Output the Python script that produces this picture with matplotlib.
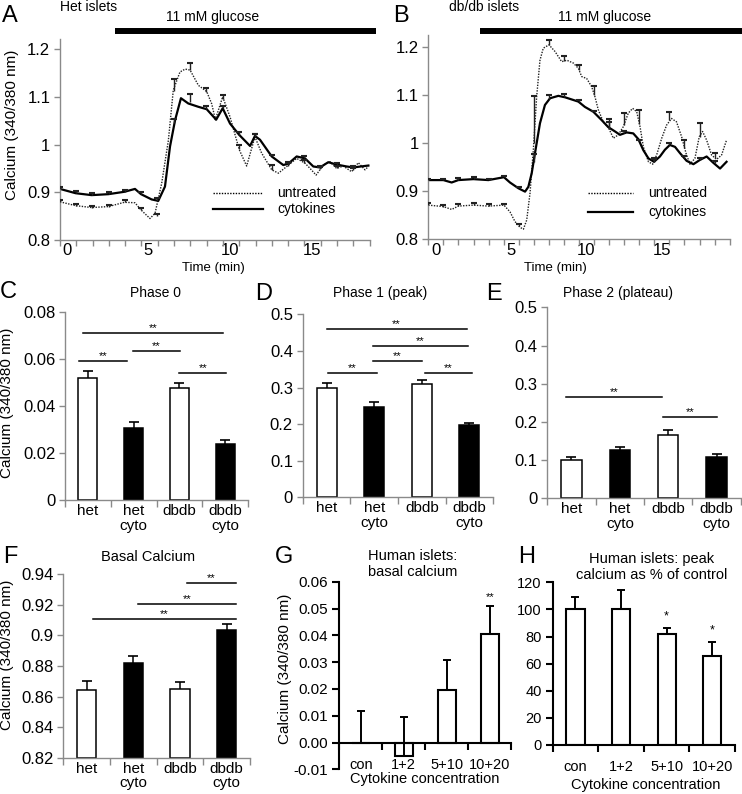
import numpy as np
import matplotlib
matplotlib.use("Agg")
import matplotlib.pyplot as plt
from matplotlib.lines import Line2D

plt.rcParams["font.family"] = ["Liberation Sans", "DejaVu Sans"]

# ---------------- A: het islets, calcium (340/380) vs time (min) ----------------
het_untr_t = [-0.43, 0.53, 1.51, 2.54, 3.52, 4.17, 4.54, 5.09, 5.40, 5.81,
              6.22, 6.52, 6.93, 7.25, 7.55, 8.06, 8.57, 8.88, 9.10, 9.55,
              10.0, 10.57, 11.02, 11.53, 11.94, 12.56, 12.97, 13.48, 14.09, 14.60,
              14.91, 15.28, 15.73, 16.13, 16.54, 16.95, 17.46, 17.87, 18.28, 18.49]
het_untr_v = [0.880, 0.872, 0.868, 0.870, 0.879, 0.878, 0.863, 0.845, 0.856, 0.919,
              1.009, 1.114, 1.152, 1.158, 1.156, 1.124, 1.111, 1.085, 1.052, 1.100,
              1.058, 0.989, 0.955, 1.016, 0.982, 0.947, 0.940, 0.954, 0.971, 0.961,
              0.950, 0.936, 0.957, 0.964, 0.950, 0.955, 0.943, 0.962, 0.947, 0.954]
het_cyto_t = [-0.43, 0.53, 1.51, 2.54, 3.52, 4.17, 4.54, 5.19, 5.60, 6.01,
              6.32, 6.63, 6.99, 7.44, 8.06, 8.57, 9.15, 9.55, 10.0, 10.57,
              11.23, 11.53, 11.84, 12.56, 13.27, 13.58, 14.09, 14.60, 15.11, 15.52,
              16.03, 16.54, 17.16, 17.57, 18.49]
het_cyto_v = [0.907, 0.898, 0.894, 0.896, 0.901, 0.907, 0.896, 0.885, 0.882, 0.912,
              0.996, 1.051, 1.097, 1.086, 1.079, 1.074, 1.052, 1.076, 1.044, 1.020,
              0.997, 1.018, 1.010, 0.975, 0.957, 0.960, 0.975, 0.971, 0.954, 0.952,
              0.963, 0.958, 0.954, 0.952, 0.956]
het_err_t = [-0.43, 0.55, 1.55, 2.55, 3.55, 4.55, 5.55, 6.55, 7.55, 8.55,
             9.55, 10.55, 11.55, 12.55, 13.55, 14.55, 15.55, 16.55, 17.55]
het_untr_eb = [0.880, 0.872, 0.868, 0.870, 0.879, 0.863, 0.850, 1.112, 1.156, 1.111,
               1.096, 0.990, 1.016, 0.947, 0.956, 0.962, 0.948, 0.950, 0.946]
het_untr_se = [0.004, 0.004, 0.004, 0.004, 0.004, 0.005, 0.005, 0.026, 0.015, 0.007,
               0.008, 0.010, 0.005, 0.010, 0.006, 0.006, 0.005, 0.005, 0.004]
het_cyto_eb = [0.907, 0.898, 0.894, 0.896, 0.901, 0.896, 0.882, 1.045, 1.090, 1.074,
               1.076, 1.020, 1.018, 0.975, 0.960, 0.971, 0.952, 0.958, 0.952]
het_cyto_se = [0.004, 0.004, 0.004, 0.004, 0.004, 0.004, 0.006, 0.008, 0.016, 0.006,
               0.004, 0.006, 0.004, 0.004, 0.004, 0.004, 0.004, 0.004, 0.004]

# ---------------- B: db/db islets ----------------
db_untr_t = [-0.49, 0.51, 1.06, 1.5, 2.5, 3.5, 4.53, 4.93, 5.26, 5.59,
             5.82, 6.04, 6.26, 6.48, 6.70, 6.92, 7.14, 7.52, 7.92, 8.36,
             8.7, 9.14, 9.47, 9.69, 10.02, 10.35, 10.57, 10.79, 11.12, 11.45,
             11.79, 12.12, 12.45, 12.78, 13.07, 13.34, 13.56, 13.78, 14.12, 14.40,
             14.66, 15.0, 15.32, 15.65, 15.98, 16.32, 16.61, 16.87, 17.2, 17.49,
             17.71, 17.98, 18.31, 18.64, 18.97, 19.3]
db_untr_v = [0.871, 0.868, 0.862, 0.869, 0.871, 0.869, 0.871, 0.857, 0.837, 0.825,
             0.821, 0.840, 0.896, 0.986, 1.096, 1.172, 1.197, 1.204, 1.190, 1.169,
             1.172, 1.166, 1.155, 1.138, 1.134, 1.117, 1.096, 1.069, 1.044, 1.033,
             1.010, 1.017, 1.034, 1.062, 1.072, 1.065, 1.034, 0.992, 0.961, 0.956,
             0.975, 1.010, 1.037, 1.051, 1.044, 1.013, 0.979, 0.956, 0.968, 1.013,
             1.024, 1.006, 0.975, 0.966, 0.975, 1.006]
db_cyto_t = [-0.49, 0.51, 1.06, 1.5, 2.5, 3.5, 4.53, 4.93, 5.49, 5.93,
             6.15, 6.37, 6.59, 6.92, 7.25, 7.59, 8.14, 8.58, 9.47, 9.9,
             10.46, 11.0, 11.45, 11.9, 12.23, 12.67, 13.11, 13.45, 13.78, 14.12,
             14.49, 14.88, 15.21, 15.54, 15.88, 16.21, 16.65, 17.1, 17.54, 17.98,
             18.42, 18.87, 19.3]
db_cyto_v = [0.923, 0.923, 0.918, 0.923, 0.925, 0.923, 0.929, 0.918, 0.906, 0.899,
             0.909, 0.937, 0.979, 1.041, 1.079, 1.093, 1.098, 1.095, 1.086, 1.075,
             1.065, 1.048, 1.033, 1.024, 1.017, 1.022, 1.020, 1.008, 0.985, 0.968,
             0.961, 0.972, 0.986, 0.996, 0.992, 0.979, 0.963, 0.956, 0.965, 0.972,
             0.959, 0.947, 0.961]
db_err_t = [-0.49, 0.51, 1.51, 2.51, 3.51, 4.51, 5.51, 6.51, 7.51, 8.51,
            9.51, 10.51, 11.51, 12.51, 13.51, 14.51, 15.51, 16.51, 17.51, 18.51]
db_untr_eb = [0.871, 0.868, 0.869, 0.871, 0.869, 0.871, 0.828, 1.000, 1.204, 1.170,
              1.152, 1.100, 1.030, 1.038, 1.040, 0.962, 1.048, 0.990, 1.013, 0.968]
db_untr_se = [0.004, 0.004, 0.004, 0.004, 0.004, 0.003, 0.003, 0.098, 0.010, 0.010,
              0.010, 0.018, 0.020, 0.025, 0.028, 0.004, 0.016, 0.017, 0.028, 0.012]
db_cyto_eb = [0.923, 0.923, 0.923, 0.925, 0.923, 0.929, 0.906, 0.960, 1.092, 1.095,
              1.086, 1.064, 1.031, 1.021, 1.004, 0.961, 0.996, 0.968, 0.965, 0.959]
db_cyto_se = [0.003, 0.003, 0.004, 0.004, 0.003, 0.003, 0.003, 0.018, 0.008, 0.007,
              0.003, 0.003, 0.012, 0.004, 0.003, 0.007, 0.003, 0.005, 0.003, 0.003]
glucose_on = 2.95  # min

# ---------------- C-F: mouse islet summaries ----------------
groups = ["het", "het\ncyto", "dbdb", "dbdb\ncyto"]
group_colors = ["white", "black", "white", "black"]
phase0 = [0.0520, 0.0306, 0.0476, 0.0237]
phase0_se = [0.0030, 0.0025, 0.0021, 0.0017]
phase1 = [0.300, 0.2475, 0.310, 0.1975]
phase1_se = [0.013, 0.012, 0.011, 0.006]
phase2 = [0.100, 0.126, 0.1657, 0.109]
phase2_se = [0.007, 0.009, 0.013, 0.007]
basal = [0.8643, 0.8822, 0.8650, 0.9036]
basal_se = [0.0060, 0.0046, 0.0044, 0.0040]

# ---------------- G-H: human islets ----------------
conc = ["con", "1+2", "5+10", "10+20"]
human_basal = [0.0, -0.005, 0.0195, 0.0404]
human_basal_se = [0.0117, 0.0145, 0.0112, 0.0104]
human_peak = [100, 100, 82, 66]
human_peak_se = [9.5, 14.5, 4, 10]

W, H = 742, 794
GREY = "#8a8a8a"
fig = plt.figure(figsize=(W / 100, H / 100), dpi=100)


def add_ax(l, t, r, b):
    return fig.add_axes([l / W, 1 - b / H, (r - l) / W, (b - t) / H])


def label(x, y, s, **kw):
    fig.text(x / W, 1 - y / H, s, **kw)


def style_axes(ax, color=GREY, lw=1.0):
    for s in ["top", "right"]:
        ax.spines[s].set_visible(False)
    for s in ["left", "bottom"]:
        ax.spines[s].set_color(color)
        ax.spines[s].set_linewidth(lw)
    ax.tick_params(which="both", color=color, width=lw, direction="out")
    ax.patch.set_alpha(0)


def up_err(ax, x, base, err, color="black", lw=1.1, capw=6, capt=1.4, z=3):
    # one-sided (+SEM) error bars with a cap at the top only
    top = np.array(base) + np.array(err)
    ax.vlines(x, base, top, color=color, lw=lw, zorder=z)
    ax.plot(x, top, ls="none", marker="_", ms=capw, mew=capt, color=color, zorder=z)


def time_panel(ax, tu, vu, tc, vc, et, ub, us, cb, cs, xmin, xmax, ntick):
    ax.plot(tu, vu, color="#222222", lw=1.0, ls=(0, (1, 1)))
    ax.plot(tc, vc, color="black", lw=1.6)
    up_err(ax, et, ub, us, color="#222222", lw=1.0, capw=5, capt=1.5)
    up_err(ax, et, cb, cs, color="#222222", lw=1.0, capw=5, capt=1.5)
    ax.set_xlim(xmin, xmax)
    style_axes(ax)
    ax.set_xticks([0, 5, 10, 15], ["0", "5", "10", "15"])
    ax.set_xticks(np.arange(ntick) + xmin, minor=True)
    ax.tick_params(axis="x", which="major", length=0, pad=2.5, labelsize=12)
    ax.tick_params(axis="x", which="minor", length=4)
    ax.set_yticks([0.8, 0.9, 1.0, 1.1, 1.2], ["0.8", "0.9", "1", "1.1", "1.2"])
    ax.tick_params(axis="y", length=4, labelsize=12, pad=3)


# A
axA = add_ax(60, 39.5, 369.7, 240)
axA.set_ylim(0.8, 1.22)
time_panel(axA, het_untr_t, het_untr_v, het_cyto_t, het_cyto_v, het_err_t,
           het_untr_eb, het_untr_se, het_cyto_eb, het_cyto_se, -0.43, 18.57, 20)
axA.plot([glucose_on, 18.96], [1.042, 1.042], color="black", lw=4.3,
         solid_capstyle="butt", clip_on=False, transform=axA.get_xaxis_transform())

# B
axB = add_ax(428.3, 34.7, 729.7, 239.3)
axB.set_ylim(0.8, 1.225)
time_panel(axB, db_untr_t, db_untr_v, db_cyto_t, db_cyto_v, db_err_t,
           db_untr_eb, db_untr_se, db_cyto_eb, db_cyto_se, -0.49, 19.51, 21)
axB.plot([glucose_on, 20.3], [1.02, 1.02], color="black", lw=4.3,
         solid_capstyle="butt", clip_on=False, transform=axB.get_xaxis_transform())

label(12, 125, "Calcium (340/380 nm)", rotation=90, ha="center", va="center", fontsize=11)
label(213, 268, "Time (min)", ha="center", va="center", fontsize=9.5)
label(555, 268, "Time (min)", ha="center", va="center", fontsize=9.5)
label(60, 7, "Het islets", ha="left", va="center", fontsize=10)
label(449, 7, "db/db islets", ha="left", va="center", fontsize=10)
label(213, 17, "11 mM glucose", ha="center", va="center", fontsize=10)
label(605, 17, "11 mM glucose", ha="center", va="center", fontsize=10)

for (x0, x1, xt, ys) in [(213, 263, 277, (193, 209)), (588, 633, 648, (193, 212))]:
    for y, ls, lw, txt in zip(ys, [(0, (1, 1)), "-"], [1.0, 1.6], ["untreated", "cytokines"]):
        fig.add_artist(Line2D([x0 / W, x1 / W], [1 - y / H] * 2, color="black", ls=ls, lw=lw))
        label(xt, y, txt, ha="left", va="center", fontsize=10)


def bar_panel(ax, vals, errs, bottom, ylim, yticks, ylabels, sigs, width=0.42):
    x = np.arange(len(vals))
    heights = np.array(vals) - bottom
    ax.bar(x, heights, bottom=bottom, width=width, color=group_colors,
           edgecolor="black", linewidth=1.1, zorder=2)
    up_err(ax, x, vals, errs, lw=1.1, capw=6.5, capt=1.2)
    ax.set_xlim(-0.5, 3.5)
    ax.set_ylim(*ylim)
    style_axes(ax)
    ax.set_xticks(x, groups, linespacing=1.05)
    ax.set_xticks(np.arange(5) - 0.5, minor=True)
    ax.tick_params(axis="x", which="major", length=0, pad=3, labelsize=11)
    ax.tick_params(axis="x", which="minor", length=5)
    ax.set_yticks(yticks, ylabels)
    ax.tick_params(axis="y", length=4, labelsize=12, pad=3)
    for x0, x1, y in sigs:
        ax.plot([x0, x1], [y, y], color="black", lw=1.1, clip_on=False)
        ax.text((x0 + x1) / 2, y, "**", ha="center", va="bottom", fontsize=8)


# significance bars (x from, x to, height)
sig_C = [(-0.11, 2.95, 0.0711), (-0.19, 0.85, 0.0592), (0.98, 2.01, 0.0636), (2.0, 3.03, 0.054)]
sig_D = [(0.0, 2.94, 0.46), (0.97, 2.97, 0.414), (0.98, 2.0, 0.373), (0.04, 1.05, 0.34), (2.07, 3.05, 0.34)]
sig_E = [(-0.11, 1.87, 0.266), (1.89, 3.02, 0.212)]
sig_F = [(2.16, 3.19, 0.934), (1.11, 3.19, 0.9206), (0.14, 3.19, 0.9108)]

axC = add_ax(65, 312.3, 248, 500)
bar_panel(axC, phase0, phase0_se, 0, (0, 0.08), [0, 0.02, 0.04, 0.06, 0.08],
          ["0", "0.02", "0.04", "0.06", "0.08"], sig_C)
axD = add_ax(302.7, 314.3, 493.3, 497.3)
bar_panel(axD, phase1, phase1_se, 0, (0, 0.5), [0, 0.1, 0.2, 0.3, 0.4, 0.5],
          ["0", "0.1", "0.2", "0.3", "0.4", "0.5"], sig_D)
axE = add_ax(547.3, 307.3, 740.7, 498.3)
bar_panel(axE, phase2, phase2_se, 0, (0, 0.5), [0, 0.1, 0.2, 0.3, 0.4, 0.5],
          ["0", "0.1", "0.2", "0.3", "0.4", "0.5"], sig_E)
axF = add_ax(63.3, 574.3, 250, 757.7)
bar_panel(axF, basal, basal_se, 0.82, (0.82, 0.94),
          [0.82, 0.84, 0.86, 0.88, 0.9, 0.92, 0.94],
          ["0.82", "0.84", "0.86", "0.88", "0.9", "0.92", "0.94"], sig_F)

label(7, 403, "Calcium (340/380 nm)", rotation=90, ha="center", va="center", fontsize=11)
label(7, 655, "Calcium (340/380 nm)", rotation=90, ha="center", va="center", fontsize=11)
label(155, 293, "Phase 0", ha="center", va="center", fontsize=10)
label(380, 293, "Phase 1 (peak)", ha="center", va="center", fontsize=10)
label(618, 293, "Phase 2 (plateau)", ha="center", va="center", fontsize=10)
label(148, 557, "Basal Calcium", ha="center", va="center", fontsize=10.5)

# G human basal
axG = add_ax(339.3, 581.7, 511.3, 769.3)
xg = np.arange(len(human_basal))
axG.bar(xg, human_basal, width=0.43, color="white", edgecolor="black", linewidth=1.5, zorder=2)
up_err(axG, xg, human_basal, human_basal_se, lw=1.4, capw=6, capt=1.4)
axG.set_xlim(-0.5, 3.5)
axG.set_ylim(-0.01, 0.06)
style_axes(axG, color="black", lw=1.5)
axG.spines["bottom"].set_position(("data", 0))
axG.set_xticks(np.arange(5) - 0.5)
axG.set_xticklabels([])
axG.tick_params(axis="x", length=5)
axG.set_yticks([-0.01, 0, 0.01, 0.02, 0.03, 0.04, 0.05, 0.06],
               ["-0.01", "0.00", "0.01", "0.02", "0.03", "0.04", "0.05", "0.06"])
axG.tick_params(axis="y", length=5, labelsize=11, pad=3)
for i, c in enumerate(conc):
    axG.text(i, 0.025, c, ha="center", va="center", fontsize=10.5,
             transform=axG.get_xaxis_transform())
axG.annotate("**", (3, human_basal[3] + human_basal_se[3]), xytext=(0, 3),
             textcoords="offset points", ha="center", va="bottom", fontsize=8)
label(285, 669, "Calcium (340/380 nm)", rotation=90, ha="center", va="center", fontsize=11)
label(425, 779, "Cytokine concentration", ha="center", va="center", fontsize=10.5)
label(413, 564, "Human islets:\nbasal calcium", ha="center", va="center", fontsize=10.5,
      linespacing=1.1)

# H human peak
axH = add_ax(552.7, 582.3, 735, 745)
xh = np.arange(len(human_peak))
axH.bar(xh, human_peak, width=0.4, color="white", edgecolor="black", linewidth=1.5, zorder=2)
up_err(axH, xh, human_peak, human_peak_se, lw=1.4, capw=6, capt=1.4)
axH.set_xlim(-0.5, 3.5)
axH.set_ylim(0, 120)
style_axes(axH, color="black", lw=1.5)
axH.set_xticks(xh, conc)
axH.set_xticks(np.arange(5) - 0.5, minor=True)
axH.tick_params(axis="x", which="major", length=0, pad=11, labelsize=10.5)
axH.tick_params(axis="x", which="minor", length=5)
axH.set_yticks(np.arange(0, 121, 20))
axH.tick_params(axis="y", length=5, labelsize=10.5, pad=3)
for i in [2, 3]:
    axH.annotate("*", (i, human_peak[i] + human_peak_se[i]), xytext=(0, 4),
                 textcoords="offset points", ha="center", va="bottom", fontsize=9)
label(646, 785, "Cytokine concentration", ha="center", va="center", fontsize=10.5)
label(652, 567, "Human islets: peak\ncalcium as % of control", ha="center", va="center",
      fontsize=10.5, linespacing=1.1)

# panel letters
for s, x, y in [("A", 2, 22), ("B", 393, 22), ("C", 0, 298), ("D", 255, 300), ("E", 486, 300),
                ("F", 3, 563), ("G", 275, 563), ("H", 518, 563)]:
    label(x, y, s, ha="left", va="baseline", fontsize=17)

fig.savefig("out.png", dpi=100)
